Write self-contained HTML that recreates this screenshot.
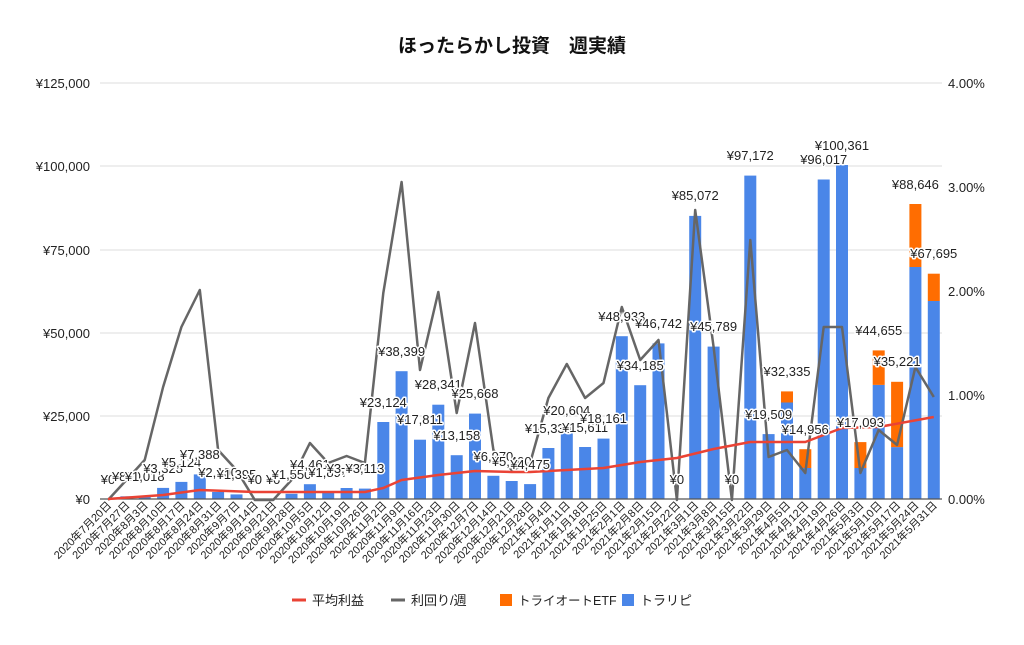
<!DOCTYPE html>
<html><head><meta charset="utf-8"><style>
body{margin:0;background:#fff}
svg text{font-family:"Liberation Sans","Noto Sans CJK JP",sans-serif}
.v{font-size:13px;fill:#222;text-anchor:middle;stroke:#fff;stroke-width:3px;paint-order:stroke;stroke-linejoin:round}
.ax{font-size:13px;fill:#222}
.d{font-size:11px;fill:#222;text-anchor:end}
</style></head><body>
<svg width="1024" height="640" viewBox="0 0 1024 640" xmlns="http://www.w3.org/2000/svg">
<text x="512" y="52" text-anchor="middle" font-size="19" font-weight="bold" fill="#111">ほったらかし投資　週実績</text>
<g stroke="#ddd" stroke-width="1">
<line x1="100" y1="83" x2="942" y2="83"/><line x1="100" y1="166" x2="942" y2="166"/><line x1="100" y1="250" x2="942" y2="250"/><line x1="100" y1="333" x2="942" y2="333"/><line x1="100" y1="416" x2="942" y2="416"/>
</g>
<g class="ax" text-anchor="end">
<text x="90" y="88">¥125,000</text><text x="90" y="171">¥100,000</text><text x="90" y="255">¥75,000</text><text x="90" y="338">¥50,000</text><text x="90" y="421">¥25,000</text><text x="90" y="504">¥0</text>
</g>
<g class="ax">
<text x="948" y="88">4.00%</text><text x="948" y="192">3.00%</text><text x="948" y="296">2.00%</text><text x="948" y="400">1.00%</text><text x="948" y="504">0.00%</text>
</g>
<g fill="#4a86e8">
<rect x="120.4" y="496.3" width="12" height="2.7"/><rect x="138.7" y="495.6" width="12" height="3.4"/><rect x="157.1" y="487.9" width="12" height="11.1"/><rect x="175.4" y="481.9" width="12" height="17.1"/><rect x="193.8" y="474.4" width="12" height="24.6"/><rect x="212.1" y="492" width="12" height="7"/><rect x="230.5" y="494.4" width="12" height="4.6"/>
<rect x="285.5" y="493.8" width="12" height="5.2"/><rect x="303.9" y="484.2" width="12" height="14.8"/><rect x="322.2" y="492.7" width="12" height="6.3"/><rect x="340.6" y="488" width="12" height="11"/><rect x="358.9" y="488.6" width="12" height="10.4"/>
<rect x="377.3" y="422" width="12" height="77"/><rect x="395.6" y="371.2" width="12" height="127.8"/><rect x="414" y="439.7" width="12" height="59.3"/><rect x="432.3" y="404.7" width="12" height="94.3"/><rect x="450.7" y="455.2" width="12" height="43.8"/><rect x="469" y="413.6" width="12" height="85.4"/><rect x="487.4" y="475.8" width="12" height="23.2"/><rect x="505.7" y="481" width="12" height="18"/><rect x="524.1" y="484.1" width="12" height="14.9"/>
<rect x="542.4" y="448" width="12" height="51"/><rect x="560.8" y="430.4" width="12" height="68.6"/><rect x="579.1" y="447" width="12" height="52"/><rect x="597.5" y="438.6" width="12" height="60.4"/><rect x="615.8" y="336.2" width="12" height="162.8"/><rect x="634.2" y="385.2" width="12" height="113.8"/><rect x="652.5" y="343.4" width="12" height="155.6"/>
<rect x="689.2" y="215.9" width="12" height="283.1"/><rect x="707.6" y="346.6" width="12" height="152.4"/><rect x="744.3" y="175.6" width="12" height="323.4"/><rect x="762.6" y="434.1" width="12" height="64.9"/><rect x="781" y="402.5" width="12" height="96.5"/><rect x="799.3" y="468" width="12" height="31"/><rect x="817.7" y="179.5" width="12" height="319.5"/><rect x="836" y="165" width="12" height="334"/><rect x="854.4" y="468" width="12" height="31"/><rect x="872.7" y="384.9" width="12" height="114.1"/><rect x="891.1" y="447.1" width="12" height="51.9"/><rect x="909.4" y="267" width="12" height="232"/><rect x="927.8" y="301" width="12" height="198"/>
</g>
<g fill="#ff6d01">
<rect x="781" y="391.4" width="12" height="11.1"/><rect x="799.3" y="449.2" width="12" height="18.8"/><rect x="854.4" y="442.1" width="12" height="25.9"/><rect x="872.7" y="350.4" width="12" height="34.5"/><rect x="891.1" y="381.8" width="12" height="65.3"/><rect x="909.4" y="204" width="12" height="63"/><rect x="927.8" y="273.7" width="12" height="27.3"/>
</g>
<line x1="100" y1="499" x2="942" y2="499" stroke="#555" stroke-width="1.2"/>
<polyline fill="none" stroke="#666" stroke-width="2.5" stroke-linejoin="round" points="108,500 126.4,480 144.7,460 163.1,387 181.4,327 199.8,290 218.1,450 236.5,470 254.8,500 273.2,500 291.5,480 309.9,443 328.2,463 346.6,456 364.9,463 383.3,293 401.6,182 420,370 438.3,292 456.7,413 475,323 493.4,450 511.7,470 530.1,463 548.4,398 566.8,364 585.1,398 603.5,383 621.8,307 640.2,360 658.5,340 676.9,500 695.2,210 713.6,347 731.9,500 750.3,240 768.6,457 787,450 805.3,473 823.7,327 842,327 860.4,473 878.7,430 897.1,445 915.4,367 933.8,397"/>
<polyline fill="none" stroke="#ea4335" stroke-width="2.5" stroke-linejoin="round" points="108,499 163.1,495 199.8,490 254.8,492 364.9,492 383.3,488 401.6,480 438.3,475 475,471 511.7,472 530.1,472 603.5,468 640.2,462 676.9,458 713.6,449 750.3,442 805.3,442 842,428 878.7,427 933.8,417"/>
<g class="v">
<text x="108" y="484">¥0</text><text x="126.4" y="481">¥800</text><text x="144.7" y="481">¥1,018</text><text x="163.1" y="473">¥3,328</text><text x="181.4" y="467">¥5,124</text><text x="199.8" y="459">¥7,388</text><text x="218.1" y="477">¥2,100</text><text x="236.5" y="479">¥1,395</text><text x="254.8" y="484">¥0</text><text x="273.2" y="484">¥0</text><text x="291.5" y="479">¥1,550</text><text x="309.9" y="469">¥4,461</text><text x="328.2" y="477">¥1,897</text><text x="346.6" y="473">¥3,300</text><text x="364.9" y="473">¥3,113</text>
<text x="383.3" y="407">¥23,124</text><text x="401.6" y="356">¥38,399</text><text x="420" y="424">¥17,811</text><text x="438.3" y="389">¥28,341</text><text x="456.7" y="440">¥13,158</text><text x="475" y="398">¥25,668</text><text x="493.4" y="461">¥6,970</text><text x="511.7" y="466">¥5,400</text><text x="530.1" y="469">¥4,475</text>
<text x="548.4" y="433">¥15,338</text><text x="566.8" y="415">¥20,604</text><text x="585.1" y="432">¥15,611</text><text x="603.5" y="423">¥18,161</text><text x="621.8" y="321">¥48,933</text><text x="640.2" y="370">¥34,185</text><text x="658.5" y="328">¥46,742</text><text x="676.9" y="484">¥0</text><text x="695.2" y="200">¥85,072</text><text x="713.6" y="331">¥45,789</text><text x="731.9" y="484">¥0</text><text x="750.3" y="160">¥97,172</text><text x="768.6" y="419">¥19,509</text><text x="787" y="376">¥32,335</text><text x="805.3" y="434">¥14,956</text><text x="823.7" y="164">¥96,017</text><text x="842" y="150">¥100,361</text><text x="860.4" y="427">¥17,093</text><text x="878.7" y="335">¥44,655</text><text x="897.1" y="366">¥35,221</text><text x="915.4" y="189">¥88,646</text><text x="933.8" y="258">¥67,695</text>
</g>
<g class="d">
<text transform="translate(112,506) rotate(-45)">2020年7月20日</text><text transform="translate(130.4,506) rotate(-45)">2020年7月27日</text><text transform="translate(148.7,506) rotate(-45)">2020年8月3日</text><text transform="translate(167.1,506) rotate(-45)">2020年8月10日</text><text transform="translate(185.4,506) rotate(-45)">2020年8月17日</text><text transform="translate(203.8,506) rotate(-45)">2020年8月24日</text><text transform="translate(222.1,506) rotate(-45)">2020年8月31日</text><text transform="translate(240.5,506) rotate(-45)">2020年9月7日</text><text transform="translate(258.8,506) rotate(-45)">2020年9月14日</text><text transform="translate(277.2,506) rotate(-45)">2020年9月21日</text><text transform="translate(295.5,506) rotate(-45)">2020年9月28日</text><text transform="translate(313.9,506) rotate(-45)">2020年10月5日</text><text transform="translate(332.2,506) rotate(-45)">2020年10月12日</text><text transform="translate(350.6,506) rotate(-45)">2020年10月19日</text><text transform="translate(368.9,506) rotate(-45)">2020年10月26日</text><text transform="translate(387.3,506) rotate(-45)">2020年11月2日</text><text transform="translate(405.6,506) rotate(-45)">2020年11月9日</text><text transform="translate(424,506) rotate(-45)">2020年11月16日</text><text transform="translate(442.3,506) rotate(-45)">2020年11月23日</text><text transform="translate(460.7,506) rotate(-45)">2020年11月30日</text><text transform="translate(479,506) rotate(-45)">2020年12月7日</text><text transform="translate(497.4,506) rotate(-45)">2020年12月14日</text><text transform="translate(515.7,506) rotate(-45)">2020年12月21日</text><text transform="translate(534.1,506) rotate(-45)">2020年12月28日</text><text transform="translate(552.4,506) rotate(-45)">2021年1月4日</text><text transform="translate(570.8,506) rotate(-45)">2021年1月11日</text><text transform="translate(589.1,506) rotate(-45)">2021年1月18日</text><text transform="translate(607.5,506) rotate(-45)">2021年1月25日</text><text transform="translate(625.8,506) rotate(-45)">2021年2月1日</text><text transform="translate(644.2,506) rotate(-45)">2021年2月8日</text><text transform="translate(662.5,506) rotate(-45)">2021年2月15日</text><text transform="translate(680.9,506) rotate(-45)">2021年2月22日</text><text transform="translate(699.2,506) rotate(-45)">2021年3月1日</text><text transform="translate(717.6,506) rotate(-45)">2021年3月8日</text><text transform="translate(735.9,506) rotate(-45)">2021年3月15日</text><text transform="translate(754.3,506) rotate(-45)">2021年3月22日</text><text transform="translate(772.6,506) rotate(-45)">2021年3月29日</text><text transform="translate(791,506) rotate(-45)">2021年4月5日</text><text transform="translate(809.3,506) rotate(-45)">2021年4月12日</text><text transform="translate(827.7,506) rotate(-45)">2021年4月19日</text><text transform="translate(846,506) rotate(-45)">2021年4月26日</text><text transform="translate(864.4,506) rotate(-45)">2021年5月3日</text><text transform="translate(882.7,506) rotate(-45)">2021年5月10日</text><text transform="translate(901.1,506) rotate(-45)">2021年5月17日</text><text transform="translate(919.4,506) rotate(-45)">2021年5月24日</text><text transform="translate(937.8,506) rotate(-45)">2021年5月31日</text>
</g>
<g font-size="13" fill="#222">
<line x1="292" y1="600" x2="306" y2="600" stroke="#ea4335" stroke-width="3"/><text x="312" y="605">平均利益</text>
<line x1="391" y1="600" x2="405" y2="600" stroke="#666" stroke-width="3"/><text x="411" y="605">利回り/週</text>
<rect x="500" y="594" width="12" height="12" fill="#ff6d01"/><text x="518" y="605" font-size="12.5">トライオートETF</text>
<rect x="622" y="594" width="12" height="12" fill="#4a86e8"/><text x="640" y="605">トラリピ</text>
</g>
</svg>
</body></html>
